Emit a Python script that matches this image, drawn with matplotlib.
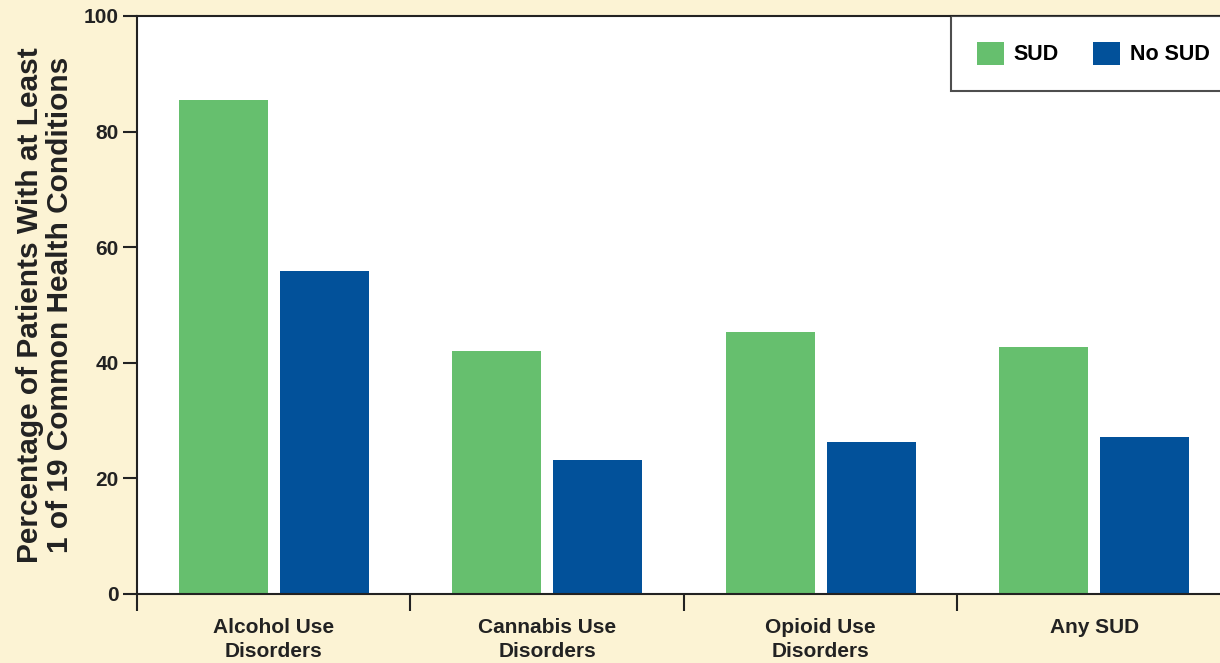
import matplotlib.pyplot as plt
import numpy as np

categories = ['Alcohol Use\nDisorders', 'Cannabis Use\nDisorders', 'Opioid Use\nDisorders', 'Any SUD']
sud = [85.5, 42.0, 45.3, 42.7]
no_sud = [55.9, 23.2, 26.3, 27.2]
yticks = [0, 20, 40, 60, 80, 100]

plt.rcParams['font.family'] = ['Liberation Sans', 'DejaVu Sans']
plt.rcParams['font.weight'] = 'bold'
plt.rcParams['axes.labelweight'] = 'bold'

green = '#66BF6E'
blue = '#02519A'
cream = '#FCF3D4'
ink = '#222222'

fig = plt.figure(figsize=(12.2, 6.63), dpi=100, facecolor=cream)
ax = fig.add_axes([0.1123, 0.1041, 0.8877, 0.8718])
ax.set_facecolor('white')

x = np.arange(len(categories))
w = 0.325
ax.bar(x - 0.185, sud, w, color=green, label='SUD')
ax.bar(x + 0.185, no_sud, w, color=blue, label='No SUD')

ax.set_yticks(yticks)
ax.tick_params(axis='y', length=10, width=1.5, labelsize=15, pad=3, colors=ink)

# separators between groups as ticks, labels on centers
ax.set_xticks(np.arange(len(categories) + 1) - 0.5)
ax.set_xticklabels([])
ax.set_xticks(x, minor=True)
ax.set_xticklabels(categories, minor=True, fontsize=15, color=ink, linespacing=1.36)
ax.tick_params(axis='x', which='major', length=12, width=1.5, direction='out', color=ink)
ax.tick_params(axis='x', which='minor', length=0, pad=17)

ax.set_xlim(-0.5, 3.46)
ax.set_ylim(0, 100)

for s in ['left', 'bottom', 'top']:
    ax.spines[s].set_linewidth(1.5)
    ax.spines[s].set_color(ink)
ax.spines['right'].set_visible(False)

ax.set_ylabel('Percentage of Patients With at Least\n1 of 19 Common Health Conditions',
              fontsize=21.5, color=ink, labelpad=7, linespacing=1.12)

leg = ax.legend(loc='upper left', bbox_to_anchor=(0.7516, 1.0), ncol=2, fontsize=15.5,
                frameon=True, fancybox=False, edgecolor=ink, handlelength=1.26,
                handleheight=1.26, handletextpad=0.45, columnspacing=1.6,
                borderpad=1.2, borderaxespad=0)
leg.get_frame().set_linewidth(1.5)

fig.savefig('out.png', dpi=100, facecolor=cream)
